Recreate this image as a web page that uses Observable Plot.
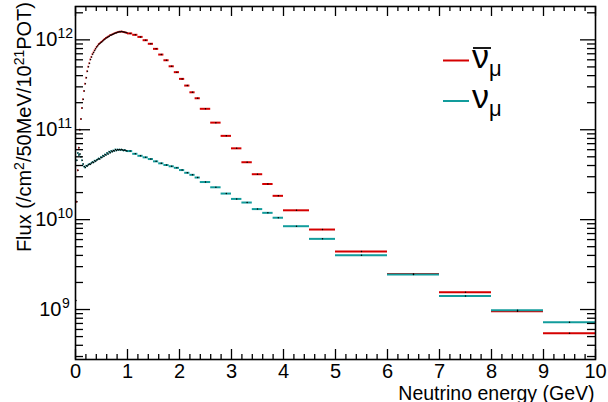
<!DOCTYPE html>
<html>
<head>
<meta charset="utf-8">
<script src="https://cdn.jsdelivr.net/npm/d3@7"></script>
<script src="https://cdn.jsdelivr.net/npm/@observablehq/plot@0.6"></script>
<style>
  html, body { margin: 0; padding: 0; background: #fff; }
  svg { display: block; }
</style>
</head>
<body>
<div id="chart"></div>
<script>
// ---- Data ----
// Bin edges (GeV): 20 MeV bins up to 1 GeV, then 0.1, 0.2, 0.5 and 1 GeV bins
const fineEdges = d3.range(0, 51).map(i => +(i * 0.02).toFixed(2));
const coarseEdges = [1.1, 1.2, 1.3, 1.4, 1.5, 1.6, 1.7, 1.8, 1.9, 2.0, 2.1, 2.2, 2.3, 2.4,
                     2.6, 2.8, 3.0, 3.2, 3.4, 3.6, 3.8, 4.0,
                     4.5, 5, 6, 7, 8, 9, 10];

// anti-numu flux
const numubarFlux = [
  1.26e9, 1.58e10, 3.55e10, 6.31e10, 1.00e11, 1.32e11, 1.74e11, 2.19e11, 2.69e11, 3.24e11,
  3.80e11, 4.47e11, 5.01e11, 5.50e11, 6.03e11, 6.46e11, 6.92e11, 7.24e11, 7.59e11, 7.94e11,
  8.32e11, 8.61e11, 8.91e11, 9.12e11, 9.33e11, 9.55e11, 9.77e11, 1.00e12, 1.023e12, 1.047e12,
  1.059e12, 1.084e12, 1.096e12, 1.122e12, 1.135e12, 1.148e12, 1.161e12, 1.175e12, 1.189e12, 1.202e12,
  1.216e12, 1.222e12, 1.230e12, 1.230e12, 1.236e12, 1.230e12, 1.225e12, 1.216e12, 1.211e12, 1.202e12,
  1.180e12, 1.138e12, 1.079e12, 9.91e11, 9.04e11, 7.94e11, 6.86e11, 5.93e11, 5.08e11, 4.37e11,
  3.68e11, 3.10e11, 2.61e11, 2.24e11,
  1.71e11, 1.20e11, 8.55e10, 6.21e10, 4.35e10, 3.20e10, 2.49e10, 1.84e10,
  1.27e10, 7.76e9, 4.42e9, 2.49e9, 1.56e9, 9.57e8, 5.46e8
];

// numu flux
const numuFlux = [
  2.0e10, 4.57e10, 5.50e10, 5.25e10, 5.37e10, 5.01e10, 4.57e10, 4.17e10, 3.89e10, 3.80e10,
  3.98e10, 3.94e10, 4.07e10, 4.17e10, 4.12e10, 4.27e10, 4.37e10, 4.32e10, 4.52e10, 4.47e10,
  4.62e10, 4.68e10, 4.79e10, 4.73e10, 4.95e10, 4.90e10, 5.13e10, 5.07e10, 5.31e10, 5.25e10,
  5.50e10, 5.37e10, 5.69e10, 5.56e10, 5.82e10, 5.69e10, 5.89e10, 5.82e10, 6.03e10, 5.89e10,
  6.03e10, 5.96e10, 6.03e10, 5.96e10, 6.03e10, 5.96e10, 5.89e10, 5.96e10, 5.89e10, 5.82e10,
  5.79e10, 5.40e10, 5.13e10, 4.93e10, 4.72e10, 4.45e10, 4.23e10, 4.05e10, 3.92e10, 3.77e10,
  3.56e10, 3.32e10, 3.15e10, 2.94e10,
  2.62e10, 2.29e10, 1.95e10, 1.70e10, 1.55e10, 1.31e10, 1.19e10, 1.05e10,
  8.45e9, 6.11e9, 4.02e9, 2.45e9, 1.41e9, 9.82e8, 7.23e8
];

// Ticks
const xMajorTicks = [0, 1, 2, 3, 4, 5, 6, 7, 8, 9, 10];
const xMinorTicks = d3.range(0, 51).map(i => +(i * 0.2).toFixed(1)).filter(v => v % 1 !== 0);
const yLabelTicks2 = [1e10, 1e11, 1e12];   // two-digit exponents
const yLabelTicks1 = [1e9];                // one-digit exponent
const yMajorTicks = [1e9, 1e10, 1e11, 1e12];
const yMinorTicks = [3e8, 4e8, 5e8, 6e8, 7e8, 8e8, 9e8,
  2e9, 3e9, 4e9, 5e9, 6e9, 7e9, 8e9, 9e9,
  2e10, 3e10, 4e10, 5e10, 6e10, 7e10, 8e10, 9e10,
  2e11, 3e11, 4e11, 5e11, 6e11, 7e11, 8e11, 9e11,
  2e12];

const xTitle = "Neutrino energy (GeV)";
const colorBar = "#d50000";
const colorNu = "#129c9c";

// ---- Build bins ----
const edges = [...fineEdges, ...coarseEdges];
function makeBins(values) {
  return values.map((v, i) => ({lo: edges[i], hi: edges[i + 1], mid: (edges[i] + edges[i + 1]) / 2, v}));
}
const binsBar = makeBins(numubarFlux);
const binsNu = makeBins(numuFlux);

// ---- Layout ----
const W = 608, H = 402;
const mL = 75, mR = 13, mT = 6, mB = 43;
const pw = W - mL - mR, ph = H - mT - mB;
const font = "'Liberation Sans', Arial, Helvetica, sans-serif";

const plot = Plot.plot({
  width: W, height: H,
  marginLeft: mL, marginRight: mR, marginTop: mT, marginBottom: mB,
  style: {fontFamily: font, background: "white", color: "black"},
  x: {domain: [0, 10], axis: null},
  y: {type: "log", domain: [2.78e8, 2.35e12], axis: null},
  marks: [
    // histograms (bar = bin width)
    Plot.ruleY(binsBar, {x1: "lo", x2: "hi", y: "v", stroke: colorBar, strokeWidth: 2}),
    Plot.ruleY(binsNu, {x1: "lo", x2: "hi", y: "v", stroke: colorNu, strokeWidth: 2}),
    // markers at bin centres
    Plot.dot(binsBar, {x: "mid", y: "v", r: 0.75, fill: "black", stroke: null}),
    Plot.dot(binsNu, {x: "mid", y: "v", r: 0.75, fill: "black", stroke: null}),
    // x ticks bottom & top (inward)
    Plot.ruleX(xMajorTicks, {x: d => d, insetTop: ph - 10, stroke: "black", strokeWidth: 1.3}),
    Plot.ruleX(xMinorTicks, {x: d => d, insetTop: ph - 5, stroke: "black", strokeWidth: 1.3}),
    Plot.ruleX(xMajorTicks, {x: d => d, insetBottom: ph - 10, stroke: "black", strokeWidth: 1.3}),
    Plot.ruleX(xMinorTicks, {x: d => d, insetBottom: ph - 5, stroke: "black", strokeWidth: 1.3}),
    // y ticks left & right (inward)
    Plot.ruleY(yMajorTicks, {y: d => d, insetRight: pw - 15, stroke: "black", strokeWidth: 1.3}),
    Plot.ruleY(yMinorTicks, {y: d => d, insetRight: pw - 8, stroke: "black", strokeWidth: 1.3}),
    Plot.ruleY(yMajorTicks, {y: d => d, insetLeft: pw - 15, stroke: "black", strokeWidth: 1.3}),
    Plot.ruleY(yMinorTicks, {y: d => d, insetLeft: pw - 8, stroke: "black", strokeWidth: 1.3}),
    Plot.frame({stroke: "black", strokeWidth: 1.6}),
    // x tick labels
    Plot.text(xMajorTicks, {x: d => d, text: d => String(d), frameAnchor: "bottom", lineAnchor: "bottom", dy: 18.5, fontSize: 20, fill: "black"}),
    // y tick labels 10^n
    Plot.text(yLabelTicks2, {y: d => d, text: () => "10", frameAnchor: "left", textAnchor: "end", dx: -18, fontSize: 20, fill: "black"}),
    Plot.text(yLabelTicks2, {y: d => d, text: d => String(Math.round(Math.log10(d))), frameAnchor: "left", textAnchor: "start", dx: -18, dy: -6, fontSize: 14, fill: "black"}),
    Plot.text(yLabelTicks1, {y: d => d, text: () => "10", frameAnchor: "left", textAnchor: "end", dx: -14, fontSize: 20, fill: "black"}),
    Plot.text(yLabelTicks1, {y: d => d, text: d => String(Math.round(Math.log10(d))), frameAnchor: "left", textAnchor: "start", dx: -13.5, dy: -6, fontSize: 14, fill: "black"}),
    // x title
    Plot.text([xTitle], {text: d => d, frameAnchor: "bottom-right", textAnchor: "end", lineAnchor: "bottom", dy: 40, dx: -1, fontSize: 19.5, fill: "black"})
  ]
});

document.getElementById("chart").appendChild(plot);

const svg = d3.select(plot);

// y title with superscripts
const yt = svg.append("text")
  .attr("transform", "translate(31,2) rotate(-90)")
  .attr("text-anchor", "end")
  .attr("font-family", font)
  .attr("font-size", 20)
  .attr("fill", "black");
yt.append("tspan").text("Flux (/cm");
yt.append("tspan").attr("dy", -7).attr("font-size", 14).text("2");
yt.append("tspan").attr("dy", 7).text("/50MeV/10");
yt.append("tspan").attr("dy", -7).attr("font-size", 14).text("21");
yt.append("tspan").attr("dy", 7).text("POT)");

// legend
const lg = svg.append("g").attr("font-family", font).attr("fill", "black").attr("text-anchor", "start");
function legendEntry(y, color, bar) {
  lg.append("line").attr("x1", 443).attr("x2", 469).attr("y1", y).attr("y2", y)
    .attr("stroke", color).attr("stroke-width", 2);
  const t = lg.append("text").attr("x", 472).attr("y", y + 7).attr("font-size", 34).attr("text-anchor", "start");
  t.append("tspan").text("ν");
  t.append("tspan").attr("dy", 8).attr("font-size", 22).text("μ");
  if (bar) {
    lg.append("line").attr("x1", 473).attr("x2", 491).attr("y1", y - 12.5).attr("y2", y - 12.5)
      .attr("stroke", "black").attr("stroke-width", 1.8);
  }
}
legendEntry(60.5, colorBar, true);
legendEntry(101, colorNu, false);
</script>
</body>
</html>
